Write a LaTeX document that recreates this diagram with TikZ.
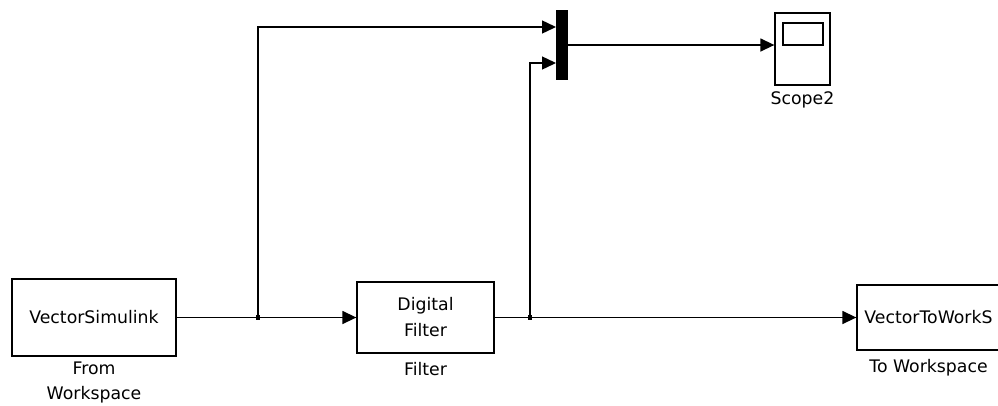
\documentclass[tikz,border=0pt]{standalone}
\usepackage{fontspec}
\setmainfont{DejaVu Sans}
\usetikzlibrary{arrows.meta,positioning}

\begin{document}
\begin{tikzpicture}[x=1pt,y=-1pt,
    block/.style={draw,line width=1.3pt,inner sep=0pt,align=center,
      font=\fontsize{17.3}{26}\selectfont},
    lbl/.style={inner sep=1pt,align=center,font=\fontsize{17.3}{25}\selectfont},
    wire/.style={line width=1.4pt},
    sig/.style={wire,-{Triangle[length=14pt,width=13pt]}},
    jdot/.style={rectangle,fill,inner sep=0pt,minimum size=4.5pt}]
  \useasboundingbox (0,0) rectangle (998,405);

  % Blocks
  \node[block,minimum width=164pt,minimum height=77pt] (from) at (94,317.5) {VectorSimulink};
  \node[block,minimum width=137pt,minimum height=71pt] (filter) at (425.5,317.5) {Digital\\Filter};
  \node[block,minimum width=143pt,minimum height=65pt] (towork) at (928.5,317.5) {VectorToWorkS};
  \node[block,minimum width=55pt,minimum height=72pt] (scope) at (802.5,49) {};
  \draw[line width=1.3pt] (783,23) rectangle (823,45);
  \node[rectangle,fill,minimum width=12pt,minimum height=70pt,inner sep=0pt] (mux) at (562,45) {};

  % Labels
  \node[lbl,below=4pt of from] (fromlbl) {From\\Workspace};
  \node[lbl,below=7pt of filter] (filterlbl) {Filter};
  \node[lbl,below=5pt of scope] (scopelbl) {Scope2};
  \node[lbl,below=7pt of towork] (toworklbl) {To Workspace};

  % Branch points and mux inputs
  \node[jdot] (j1) at (258,317.5) {};
  \node[jdot] (j2) at (530,317.5) {};
  \coordinate (muxin1) at (556,27);
  \coordinate (muxin2) at (556,63);

  % Signals
  \draw[wire] (from.east) -- (j1);
  \draw[sig] (j1) -- (filter.west);
  \draw[sig] (j1) |- (muxin1);
  \draw[wire] (filter.east) -- (j2);
  \draw[sig] (j2) -- (towork.west);
  \draw[sig] (j2) |- (muxin2);
  \draw[sig] (mux.east) -- (scope.west |- mux.east);

\end{tikzpicture}
\end{document}
